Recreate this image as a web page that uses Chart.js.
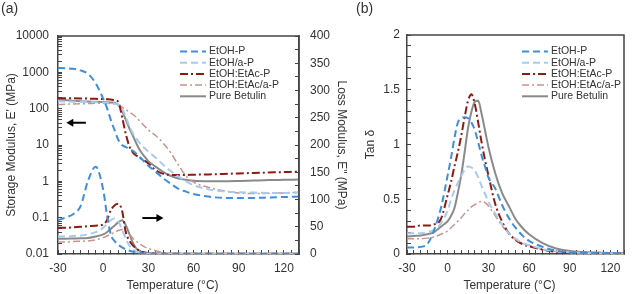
<!DOCTYPE html>
<html>
<head>
<meta charset="utf-8">
<script src="https://cdn.jsdelivr.net/npm/chart.js@4.4.0/dist/chart.umd.min.js"></script>
<style>
  html, body { margin: 0; padding: 0; background: #fff; }
  #wrap { position: relative; width: 635px; height: 294px; }
  #chartA { position: absolute; left: 0; top: 0; }
  #chartB { position: absolute; left: 355px; top: 0; }
</style>
</head>
<body>
<div id="wrap">
  <canvas id="chartA" width="355" height="294"></canvas>
  <canvas id="chartB" width="280" height="294"></canvas>
</div>
<script>
// temperatures (°C) shared by every curve
var temps = [-30, -25, -20, -15, -10, -5, 0, 2.5, 5, 7.5, 10, 12.5, 15, 17.5, 20, 22.5, 25, 27.5, 30,
             35, 40, 45, 50, 55, 60, 70, 80, 90, 100, 110, 120, 130];

var seriesNames = ['EtOH-P', 'EtOH/a-P', 'EtOH:EtAc-P', 'EtOH:EtAc/a-P', 'Pure Betulin'];

// storage modulus E' (MPa), left log axis
var storageEtohP   = [1320, 1300, 1250, 1130, 900, 500, 190, 105, 50, 26, 14, 10, 8.8, 7.8, 6.8, 5.5, 4.3, 3.4, 2.7,
                      1.8, 1.2, 0.85, 0.62, 0.52, 0.45, 0.38, 0.35, 0.35, 0.35, 0.36, 0.37, 0.38];
var storageEtohAP  = [160, 158, 156, 155, 153, 150, 148, 145, 140, 138, 130, 100, 60, 32, 20, 14, 10.5, 8.2, 6.6,
                      4.4, 2.8, 1.9, 1.35, 1.0, 0.78, 0.6, 0.53, 0.5, 0.49, 0.48, 0.48, 0.49];
var storageEtacP   = [195, 195, 193, 191, 189, 186, 183, 181, 179, 172, 155, 60, 20, 9, 6, 5, 4.3, 3.7, 3.1,
                      2.0, 1.6, 1.5, 1.5, 1.5, 1.52, 1.55, 1.6, 1.65, 1.7, 1.75, 1.8, 1.85];
var storageEtacAP  = [130, 132, 135, 137, 138, 140, 140, 140, 138, 135, 125, 110, 95, 80, 68, 55, 42, 33, 26,
                      18, 11, 6, 2.8, 1.4, 0.95, 0.68, 0.55, 0.48, 0.46, 0.47, 0.48, 0.5];
var storageBetulin = [180, 172, 165, 160, 157, 155, 152, 150, 148, 145, 128, 88, 50, 28, 17, 10, 6.5, 4.8, 3.6,
                      2.5, 1.8, 1.4, 1.2, 1.1, 1.03, 1.0, 1.0, 1.02, 1.05, 1.08, 1.1, 1.12];

// loss modulus E" (MPa), right axis
var lossEtohP   = [62, 67, 73, 88, 135, 160, 118, 72, 36, 24, 17, 12, 8.5, 6, 4, 2.3, 1.5, 1, 0.8,
                   0.6, 0.5, 0.5, 0.5, 0.5, 0.5, 0.5, 0.5, 0.5, 0.5, 0.5, 0.5, 0.5];
var lossEtohAP  = [32, 32, 33, 34, 36, 40, 48, 55, 62, 65, 60, 45, 28, 15, 8, 4, 2.5, 1.5, 1,
                   0.6, 0.5, 0.5, 0.5, 0.5, 0.5, 0.5, 0.5, 0.5, 0.5, 0.5, 0.5, 0.5];
var lossEtacP   = [48, 48, 49, 50, 51, 52, 54, 62, 80, 89, 92, 80, 40, 24, 15, 9, 5, 3, 2,
                   1, 0.5, 0.5, 0.5, 0.5, 0.5, 0.5, 0.5, 0.5, 0.5, 0.5, 0.5, 0.5];
var lossEtacAP  = [22, 22, 23, 23.5, 24, 26, 30, 33, 36, 40, 43, 45, 42, 36, 28, 22, 17, 13, 10,
                   6, 3, 1.5, 1, 0.6, 0.5, 0.5, 0.5, 0.5, 0.5, 0.5, 0.5, 0.5];
var lossBetulin = [28, 28, 28.5, 29, 29.5, 32, 36, 40, 46, 52, 58, 62, 53, 36, 19, 8.5, 4.5, 2.2, 1.4,
                   0.8, 0.5, 0.5, 0.5, 0.5, 0.5, 0.5, 0.5, 0.5, 0.5, 0.5, 0.5, 0.5];

// tan delta, panel (b)
var tanEtohP   = [0.06, 0.06, 0.065, 0.09, 0.22, 0.42, 0.72, 0.88, 1.06, 1.2, 1.24, 1.25, 1.24, 1.2, 1.13, 1.02, 0.9, 0.8, 0.7,
                  0.6, 0.45, 0.33, 0.24, 0.17, 0.12, 0.065, 0.03, 0.015, 0.01, 0.008, 0.006, 0.005];
var tanEtohAP  = [0.19, 0.19, 0.19, 0.2, 0.22, 0.28, 0.4, 0.5, 0.58, 0.65, 0.71, 0.77, 0.8, 0.79, 0.76, 0.7, 0.62, 0.55, 0.48,
                  0.37, 0.27, 0.19, 0.14, 0.1, 0.08, 0.045, 0.025, 0.015, 0.01, 0.008, 0.006, 0.005];
var tanEtacP   = [0.25, 0.25, 0.26, 0.26, 0.27, 0.32, 0.54, 0.66, 0.8, 0.93, 1.08, 1.25, 1.4, 1.46, 1.37, 1.2, 1.02, 0.86, 0.72,
                  0.46, 0.3, 0.19, 0.13, 0.09, 0.07, 0.04, 0.02, 0.01, 0.006, 0.005, 0.004, 0.003];
var tanEtacAP  = [0.14, 0.14, 0.14, 0.145, 0.155, 0.18, 0.21, 0.24, 0.27, 0.3, 0.33, 0.37, 0.4, 0.43, 0.45, 0.47, 0.48, 0.47, 0.44,
                  0.35, 0.26, 0.19, 0.13, 0.1, 0.08, 0.04, 0.022, 0.014, 0.01, 0.008, 0.006, 0.005];
var tanBetulin = [0.16, 0.165, 0.17, 0.18, 0.2, 0.25, 0.3, 0.35, 0.42, 0.56, 0.72, 0.93, 1.15, 1.3, 1.39, 1.4, 1.28, 1.13, 0.98,
                  0.74, 0.56, 0.44, 0.32, 0.24, 0.18, 0.1, 0.05, 0.028, 0.018, 0.013, 0.01, 0.008];

// tick labels
var storageTickLabels = ['0.01', '0.1', '1', '10', '100', '1000', '10000'];
var tanTickLabels = ['0', '0.5', '1', '1.5', '2'];

var fontFamily = '"Liberation Sans", Arial, sans-serif';
var axisColor = '#444';
var textColor = '#333';
Chart.defaults.font.family = fontFamily;
Chart.defaults.font.size = 12;
Chart.defaults.color = textColor;

var lineStyles = [
  { color: '#3e8ede', width: 2, dash: [7, 4] },
  { color: '#a6cbee', width: 2, dash: [7, 4] },
  { color: '#8e1b12', width: 2, dash: [8, 3, 2, 3] },
  { color: '#c8948d', width: 1.5, dash: [7, 3, 2, 3] },
  { color: '#8a8a8a', width: 2, dash: [] }
];

function makeDataset(values, styleIndex, axisId) {
  var st = lineStyles[styleIndex];
  return {
    data: values,
    yAxisID: axisId,
    borderColor: st.color,
    borderWidth: st.width,
    borderDash: st.dash,
    pointRadius: 0,
    fill: false,
    cubicInterpolationMode: 'monotone'
  };
}

// tick positions for the log axis: 1..9 in every decade
var logTickValues = [];
for (var e = -2; e < 4; e++) {
  for (var m = 1; m < 10; m++) logTickValues.push(Number((m * Math.pow(10, e)).toPrecision(6)));
}
logTickValues.push(10000);

function tickGrid() {
  return { drawOnChartArea: false, drawTicks: true, tickLength: -4, color: axisColor, lineWidth: 1 };
}
function tickBorder() {
  return { color: axisColor, width: 1.5 };
}

function xScale() {
  return {
    type: 'linear', min: -30, max: 130,
    ticks: { stepSize: 5, autoSkip: false, maxRotation: 0, padding: 11,
             callback: function (v) { return v % 30 === 0 ? v : ''; } },
    grid: tickGrid(), border: tickBorder(),
    // trailing spaces nudge the title a little left, as in the original
    title: { display: true, text: 'Temperature (°C)\u2002\u2002', padding: { top: 0, bottom: 1 } },
    afterFit: function (s) { s.height = 40; }
  };
}

function makeOverlay(letter, legendLeft, legendTop, arrows) {
  return {
    id: 'overlay',
    afterDraw: function (chart) {
      var ctx = chart.ctx, a = chart.chartArea;
      ctx.save();
      ctx.strokeStyle = axisColor;
      ctx.lineWidth = 1.5;
      ctx.beginPath();
      ctx.moveTo(a.left, a.top);
      ctx.lineTo(a.right, a.top);
      ctx.lineTo(a.right, a.bottom);
      ctx.stroke();

      ctx.fillStyle = textColor;
      ctx.textAlign = 'left';
      ctx.textBaseline = 'middle';
      ctx.font = '14px ' + fontFamily;
      ctx.fillText(letter, 1, 9);

      ctx.font = '10.5px ' + fontFamily;
      seriesNames.forEach(function (name, i) {
        var ds = chart.data.datasets[i];
        var y = legendTop + i * 11.2;
        ctx.strokeStyle = ds.borderColor;
        ctx.lineWidth = ds.borderWidth;
        ctx.setLineDash(ds.borderDash);
        ctx.beginPath();
        ctx.moveTo(legendLeft, y);
        ctx.lineTo(legendLeft + 26, y);
        ctx.stroke();
        ctx.setLineDash([]);
        ctx.fillText(name, legendLeft + 29, y);
      });

      arrows.forEach(function (ar) {
        var xs = chart.scales.x, ys = chart.scales[ar.axis];
        var x0 = xs.getPixelForValue(ar.from), x1 = xs.getPixelForValue(ar.to);
        var y = ys.getPixelForValue(ar.value);
        var dir = x1 > x0 ? 1 : -1;
        ctx.strokeStyle = '#000';
        ctx.fillStyle = '#000';
        ctx.lineWidth = 2;
        ctx.beginPath();
        ctx.moveTo(x0, y);
        ctx.lineTo(x1 - dir * 5, y);
        ctx.stroke();
        ctx.beginPath();
        ctx.moveTo(x1, y);
        ctx.lineTo(x1 - dir * 7, y - 4);
        ctx.lineTo(x1 - dir * 7, y + 4);
        ctx.closePath();
        ctx.fill();
      });
      ctx.restore();
    }
  };
}

// panel (a): storage and loss modulus
new Chart(document.getElementById('chartA'), {
  type: 'line',
  data: {
    labels: temps,
    datasets: [
      makeDataset(storageEtohP, 0, 'y'),
      makeDataset(storageEtohAP, 1, 'y'),
      makeDataset(storageEtacP, 2, 'y'),
      makeDataset(storageEtacAP, 3, 'y'),
      makeDataset(storageBetulin, 4, 'y'),
      makeDataset(lossEtohP, 0, 'y1'),
      makeDataset(lossEtohAP, 1, 'y1'),
      makeDataset(lossEtacP, 2, 'y1'),
      makeDataset(lossEtacAP, 3, 'y1'),
      makeDataset(lossBetulin, 4, 'y1')
    ]
  },
  options: {
    responsive: false,
    animation: false,
    layout: { padding: { top: 36, left: 0, right: 0, bottom: 0 } },
    plugins: { legend: { display: false }, tooltip: { enabled: false } },
    scales: {
      x: xScale(),
      y: {
        type: 'logarithmic', position: 'left', min: 0.01, max: 10000,
        afterBuildTicks: function (s) { s.ticks = logTickValues.map(function (v) { return { value: v }; }); },
        ticks: { autoSkip: false, padding: 13,
                 callback: function (v) {
                   var p = Math.log10(v);
                   return Math.abs(p - Math.round(p)) < 1e-6 ? storageTickLabels[Math.round(p) + 2] : '';
                 } },
        grid: tickGrid(), border: tickBorder(),
        title: { display: true, text: "Storage Modulus, E' (MPa)", padding: { top: 4, bottom: 0 } },
        afterFit: function (s) { s.width = 58; }
      },
      y1: {
        type: 'linear', position: 'right', min: 0, max: 400,
        ticks: { stepSize: 25, autoSkip: false, padding: 15,
                 callback: function (v) { return v % 50 === 0 ? v : ''; } },
        grid: tickGrid(), border: tickBorder(),
        title: { display: true, text: 'Loss Modulus, E" (MPa)', padding: { top: 6, bottom: 0 } },
        afterFit: function (s) { s.width = 56; }
      }
    }
  },
  plugins: [makeOverlay('(a)', 180, 51.5, [
    { axis: 'y', from: -11.5, to: -24.5, value: 41 },
    { axis: 'y1', from: 26, to: 40, value: 66 }
  ])]
});

// panel (b): tan delta
new Chart(document.getElementById('chartB'), {
  type: 'line',
  data: {
    labels: temps,
    datasets: [
      makeDataset(tanEtohP, 0, 'y'),
      makeDataset(tanEtohAP, 1, 'y'),
      makeDataset(tanEtacP, 2, 'y'),
      makeDataset(tanEtacAP, 3, 'y'),
      makeDataset(tanBetulin, 4, 'y')
    ]
  },
  options: {
    responsive: false,
    animation: false,
    layout: { padding: { top: 35, left: 0, right: 1, bottom: 0 } },
    plugins: { legend: { display: false }, tooltip: { enabled: false } },
    scales: {
      x: xScale(),
      y: {
        type: 'linear', position: 'left', min: 0, max: 2,
        ticks: { stepSize: 0.1, autoSkip: false, padding: 11,
                 callback: function (v) {
                   var h = v * 2;
                   return Math.abs(h - Math.round(h)) < 1e-6 ? tanTickLabels[Math.round(h)] : '';
                 } },
        grid: tickGrid(), border: tickBorder(),
        title: { display: true, text: 'Tan δ', padding: { top: 8, bottom: 0 } },
        afterFit: function (s) { s.width = 52; }
      }
    }
  },
  plugins: [makeOverlay('(b)', 167, 51.5, [])]
});
</script>
</body>
</html>
